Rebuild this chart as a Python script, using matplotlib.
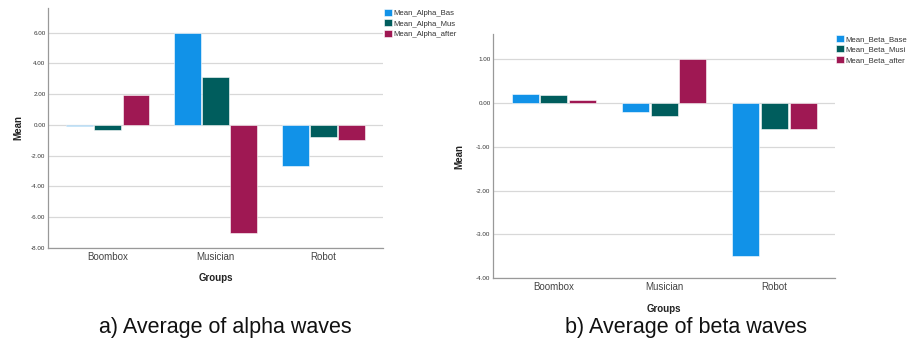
import matplotlib
matplotlib.use("Agg")
import matplotlib.pyplot as plt
import numpy as np

plt.rcParams['font.family'] = ['Liberation Sans', 'DejaVu Sans']

groups = ["Boombox", "Musician", "Robot"]

alpha_labels = ["Mean_Alpha_Bas", "Mean_Alpha_Mus", "Mean_Alpha_after"]
alpha_base = [-0.1, 6.0, -2.7]
alpha_music = [-0.3, 3.1, -0.8]
alpha_after = [1.95, -7.0, -1.0]
alpha_ticks = [6, 4, 2, 0, -2, -4, -6, -8]

beta_labels = ["Mean_Beta_Base", "Mean_Beta_Musi", "Mean_Beta_after"]
beta_base = [0.19, -0.2, -3.5]
beta_music = [0.17, -0.3, -0.6]
beta_after = [0.06, 1.0, -0.6]
beta_ticks = [1, 0, -1, -2, -3, -4]

colors = ["#1192e8", "#005d5d", "#9f1853"]

fig = plt.figure(figsize=(9.09, 3.41), dpi=100)
W, H = 909, 341

def px_axes(l, t, r, b):
    return fig.add_axes([l / W, 1 - b / H, (r - l) / W, (b - t) / H])

def draw(ax, series, labels, ticks, ylim, leg_xy, ylab_x):
    x = np.arange(len(groups))
    off = [-0.26, 0.0, 0.26]
    handles = []
    for s, c, o, lab in zip(series, colors, off, labels):
        h = ax.bar(x + o, s, width=0.245, color=c, edgecolor="white", linewidth=0.4,
                   label=lab, zorder=3)
        handles.append(h)
    ax.set_xlim(-0.55, 2.55)
    ax.set_ylim(*ylim)
    ax.set_yticks(ticks)
    ax.set_yticklabels([f"{t:.2f}" for t in ticks], fontsize=4.5, color="#333333")
    ax.set_xticks(x)
    ax.set_xticklabels(groups, fontsize=7, color="#444444")
    ax.tick_params(length=0, pad=2)
    ax.tick_params(axis='x', pad=3)
    ax.grid(axis='y', color="#d8d8d8", linewidth=0.9, zorder=0)
    for sp in ["top", "right"]:
        ax.spines[sp].set_visible(False)
    for sp in ["left", "bottom"]:
        ax.spines[sp].set_color("#999999")
        ax.spines[sp].set_linewidth(0.9)
    ax.set_xlabel("Groups", fontsize=7, fontweight="bold", color="#222222", labelpad=8)
    ax.set_ylabel("Mean", fontsize=7, fontweight="bold", color="#222222")
    ax.yaxis.set_label_coords(ylab_x, 0.5)
    fig.legend(handles=handles, labels=labels, loc="upper left",
               bbox_to_anchor=(leg_xy[0] / W, 1 - leg_xy[1] / H), frameon=False,
               fontsize=5.6, handlelength=1.0, handleheight=1.0, handletextpad=0.2,
               labelspacing=0.3, borderpad=0, borderaxespad=0, labelcolor="#333333")

ax1 = px_axes(48.3, 8, 383, 248)
draw(ax1, [alpha_base, alpha_music, alpha_after], alpha_labels, alpha_ticks,
     (-8, 7.6), (384, 9), -0.075)

ax2 = px_axes(493.3, 34.3, 835, 278.3)
draw(ax2, [beta_base, beta_music, beta_after], beta_labels, beta_ticks,
     (-4, 1.56), (836, 35), -0.085)

fig.text(225.7 / W, 1 - 328 / H, "a) Average of alpha waves", fontsize=15.5,
         ha="center", va="center", color="#111111")
fig.text(685.7 / W, 1 - 328 / H, "b) Average of beta waves", fontsize=15.5,
         ha="center", va="center", color="#111111")

fig.savefig("out.png", dpi=100, facecolor="white")
